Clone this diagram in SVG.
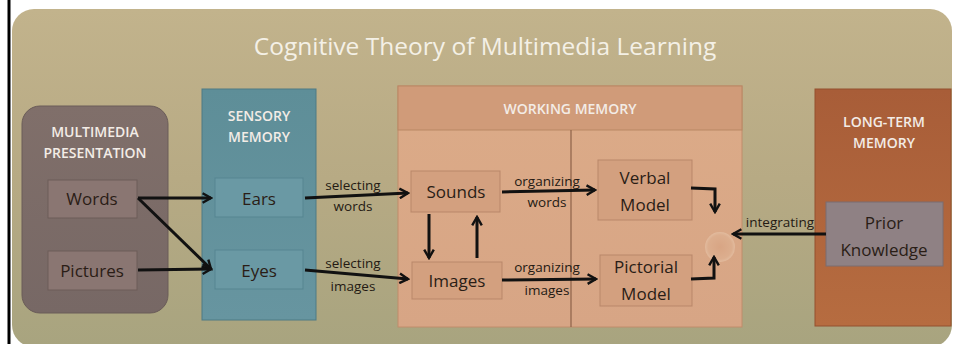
<svg xmlns="http://www.w3.org/2000/svg" width="954" height="344" viewBox="0 0 954 344">
<defs>
<linearGradient id="gOlive" x1="0" y1="0" x2="0" y2="1">
<stop offset="0" stop-color="#c2b38c"/><stop offset="0.5" stop-color="#b7aa84"/><stop offset="1" stop-color="#a8a47f"/>
</linearGradient>
<linearGradient id="gMM" x1="0" y1="0" x2="0" y2="1">
<stop offset="0" stop-color="#806f6a"/><stop offset="1" stop-color="#776865"/>
</linearGradient>
<linearGradient id="gSens" x1="0" y1="0" x2="0" y2="1">
<stop offset="0" stop-color="#5e8e98"/><stop offset="1" stop-color="#6795a0"/>
</linearGradient>
<linearGradient id="gWM" x1="0" y1="0" x2="0" y2="1">
<stop offset="0" stop-color="#dcab88"/><stop offset="1" stop-color="#d7a585"/>
</linearGradient>
<linearGradient id="gLT" x1="0" y1="0" x2="0" y2="1">
<stop offset="0" stop-color="#a85d38"/><stop offset="1" stop-color="#b66c40"/>
</linearGradient>
<radialGradient id="gCirc">
<stop offset="0" stop-color="#d8a584"/><stop offset="0.8" stop-color="#dcae8e"/><stop offset="1" stop-color="#e2bb9e"/>
</radialGradient>
<marker id="ah" viewBox="0 0 10 10" refX="8" refY="5" markerWidth="4" markerHeight="4" orient="auto" markerUnits="strokeWidth">
<path d="M1,1 L8,5 L1,9" fill="none" stroke="#111" stroke-width="2"/>
</marker>
</defs>
<style>
.hdr{font-family:"Open Sans","Liberation Sans",sans-serif;font-weight:600;fill:#f3ece6;font-size:14px;text-anchor:middle}
.lbl{font-family:"Open Sans","Liberation Sans",sans-serif;fill:#2a1d16;font-size:17px;text-anchor:middle}
.sm{font-family:"Open Sans","Liberation Sans",sans-serif;fill:#241a13;font-size:13.5px;text-anchor:middle}
.con{fill:none;stroke:#111;stroke-width:3;marker-end:url(#ah)}
</style>
<rect x="0" y="0" width="954" height="344" fill="#ffffff"/>
<line x1="9" y1="0" x2="9" y2="344" stroke="#000" stroke-width="3"/>
<g id="background">
<rect x="12" y="9" width="940" height="338" rx="22" fill="url(#gOlive)"/>
<text x="485" y="55" font-family="Open Sans, Liberation Sans, sans-serif" font-size="24.5" fill="#f4f0e6" text-anchor="middle">Cognitive Theory of Multimedia Learning</text>
</g>
<g id="multimedia">
<rect x="22" y="106" width="146" height="207" rx="18" fill="url(#gMM)" stroke="#6a5c58" stroke-width="1"/>
<text class="hdr" x="95" y="137">MULTIMEDIA</text>
<text class="hdr" x="95" y="158">PRESENTATION</text>
</g>
<g id="words"><rect x="48" y="180" width="89" height="38" fill="#8a7672" stroke="#6d5d59" stroke-width="1"/><text class="lbl" x="92" y="205">Words</text></g>
<g id="pictures"><rect x="48" y="251" width="89" height="39" fill="#8a7672" stroke="#6d5d59" stroke-width="1"/><text class="lbl" x="92" y="277">Pictures</text></g>
<g id="sensory">
<rect x="202" y="89" width="114" height="231" fill="url(#gSens)" stroke="#4e7a84" stroke-width="1"/>
<text class="hdr" x="259" y="121">SENSORY</text>
<text class="hdr" x="259" y="142">MEMORY</text>
</g>
<g id="ears"><rect x="215" y="178" width="88" height="39" fill="#6a99a4" stroke="#568591" stroke-width="1"/><text class="lbl" x="259" y="205">Ears</text></g>
<g id="eyes"><rect x="215" y="250" width="88" height="39" fill="#6a99a4" stroke="#568591" stroke-width="1"/><text class="lbl" x="259" y="277">Eyes</text></g>
<g id="working">
<rect x="398" y="86" width="344" height="241" fill="url(#gWM)" stroke="#c08c6a" stroke-width="1"/>
<rect x="398" y="86" width="344" height="44" fill="#d09b79" stroke="#b98765" stroke-width="1"/>
<line x1="571" y1="130" x2="571" y2="327" stroke="#8d6248" stroke-width="1.2"/>
<text class="hdr" x="570" y="114">WORKING MEMORY</text>
<circle cx="720" cy="247" r="15" fill="url(#gCirc)"/>
</g>
<g id="sounds"><rect x="411" y="171" width="89" height="41" fill="#d3a07f" stroke="#b9876a" stroke-width="1"/><text class="lbl" x="456" y="198">Sounds</text></g>
<g id="images"><rect x="412" y="262" width="90" height="37" fill="#d3a07f" stroke="#b9876a" stroke-width="1"/><text class="lbl" x="457" y="287">Images</text></g>
<g id="verbal"><rect x="598" y="160" width="94" height="60" fill="#d3a07f" stroke="#b9876a" stroke-width="1"/><text class="lbl" x="645" y="184">Verbal</text><text class="lbl" x="645" y="211">Model</text></g>
<g id="pictorial"><rect x="600" y="255" width="92" height="51" fill="#d3a07f" stroke="#b9876a" stroke-width="1"/><text class="lbl" x="646" y="273">Pictorial</text><text class="lbl" x="646" y="300">Model</text></g>
<g id="longterm">
<rect x="815" y="89" width="136" height="237" fill="url(#gLT)" stroke="#94502e" stroke-width="1"/>
<text class="hdr" x="884" y="127">LONG-TERM</text>
<text class="hdr" x="884" y="148">MEMORY</text>
</g>
<g id="prior"><rect x="826" y="202" width="117" height="64" fill="#8f8184" stroke="#7a6c70" stroke-width="1"/><text class="lbl" x="884" y="229">Prior</text><text class="lbl" x="884" y="256">Knowledge</text></g>
<g id="connectors">
<path class="con" d="M138,198 L211,198"/>
<path class="con" d="M138,198 L211,269"/>
<path class="con" d="M138,270 L211,269"/>
<path class="con" d="M305,198 L408,193"/>
<path class="con" d="M305,270 L408,279"/>
<path class="con" d="M429,214 L429,258"/>
<path class="con" d="M477,258 L477,217"/>
<path class="con" d="M502,192 L595,190"/>
<path class="con" d="M502,280 L596,279"/>
<path class="con" d="M691,188 L715,189 L715,212"/>
<path class="con" d="M691,279 L714,278 L714,257"/>
<path class="con" d="M826,234 L733,234"/>
<text class="sm" x="353" y="190">selecting</text>
<text class="sm" x="353" y="211">words</text>
<text class="sm" x="353" y="268">selecting</text>
<text class="sm" x="353" y="291">images</text>
<text class="sm" x="547" y="186">organizing</text>
<text class="sm" x="547" y="207">words</text>
<text class="sm" x="547" y="272">organizing</text>
<text class="sm" x="547" y="295">images</text>
<text class="sm" x="780" y="227">integrating</text>
</g>
</svg>
